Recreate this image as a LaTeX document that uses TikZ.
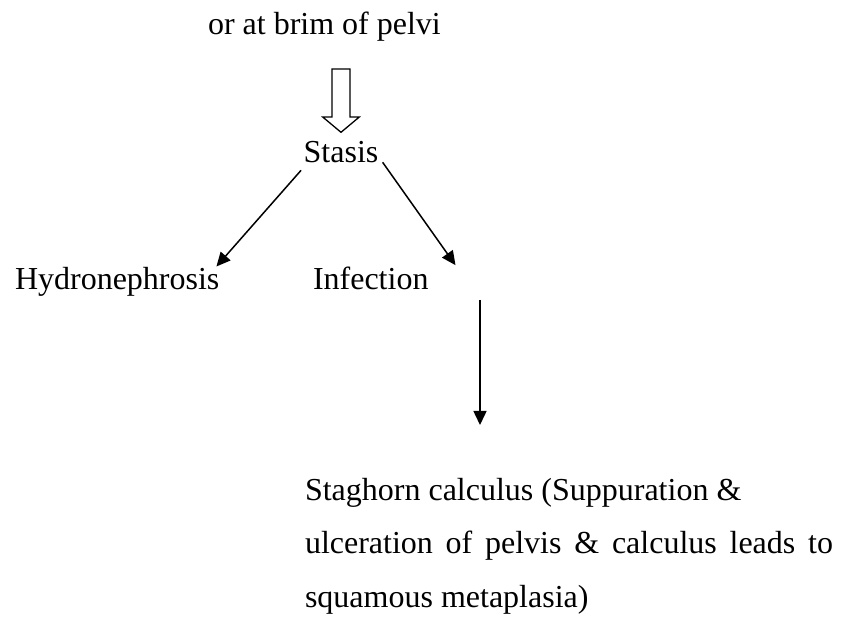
\documentclass[tikz,border=0pt]{standalone}
\usepackage{fontspec}
\setmainfont{Liberation Serif}
\usetikzlibrary{arrows.meta}
\begin{document}
\begin{tikzpicture}[x=1pt,y=-1pt,
  txt/.style={inner sep=0pt,outer sep=0pt,font=\fontsize{32}{53.5}\selectfont},
  arr/.style={line width=1.5pt,-{Triangle[length=14pt,width=13pt]}},
  hollow/.style={line width=1.3pt,fill=white,line join=miter}]
\useasboundingbox (0,0) rectangle (846,617);
\node[txt,anchor=base west] (top) at (208,35) {or at brim of pelvi};
\node[txt,anchor=base] (stasis) at (341,163) {Stasis};
\node[txt,anchor=base west] (hydro) at (15,290) {Hydronephrosis};
\node[txt,anchor=base west] (infection) at (313,290) {Infection};
\node[txt,anchor=base west,align=left] (stag) at (305,607)
  {Staghorn calculus (Suppuration \&\\
   \makebox[528pt][s]{ulceration of pelvis \& calculus leads to}\\
   squamous metaplasia)};
\coordinate (vstart) at (480,300);
\coordinate (vend) at (480,425);
% hollow block arrow
\draw[hollow] (332,69) -- (350,69) -- (350,117) -- (359.3,117) -- (341,132.3)
  -- (322.7,117) -- (332,117) -- cycle;
% arrows
\draw[arr] ([shift={(-2.6,7)}]stasis.south west) -- ([shift={(-3,-1.3)}]hydro.north east);
\draw[arr] ([shift={(4.3,-1)}]stasis.south east) -- ([shift={(27,-2.3)}]infection.north east);
\draw[arr] (vstart) -- (vend);
\end{tikzpicture}
\end{document}
